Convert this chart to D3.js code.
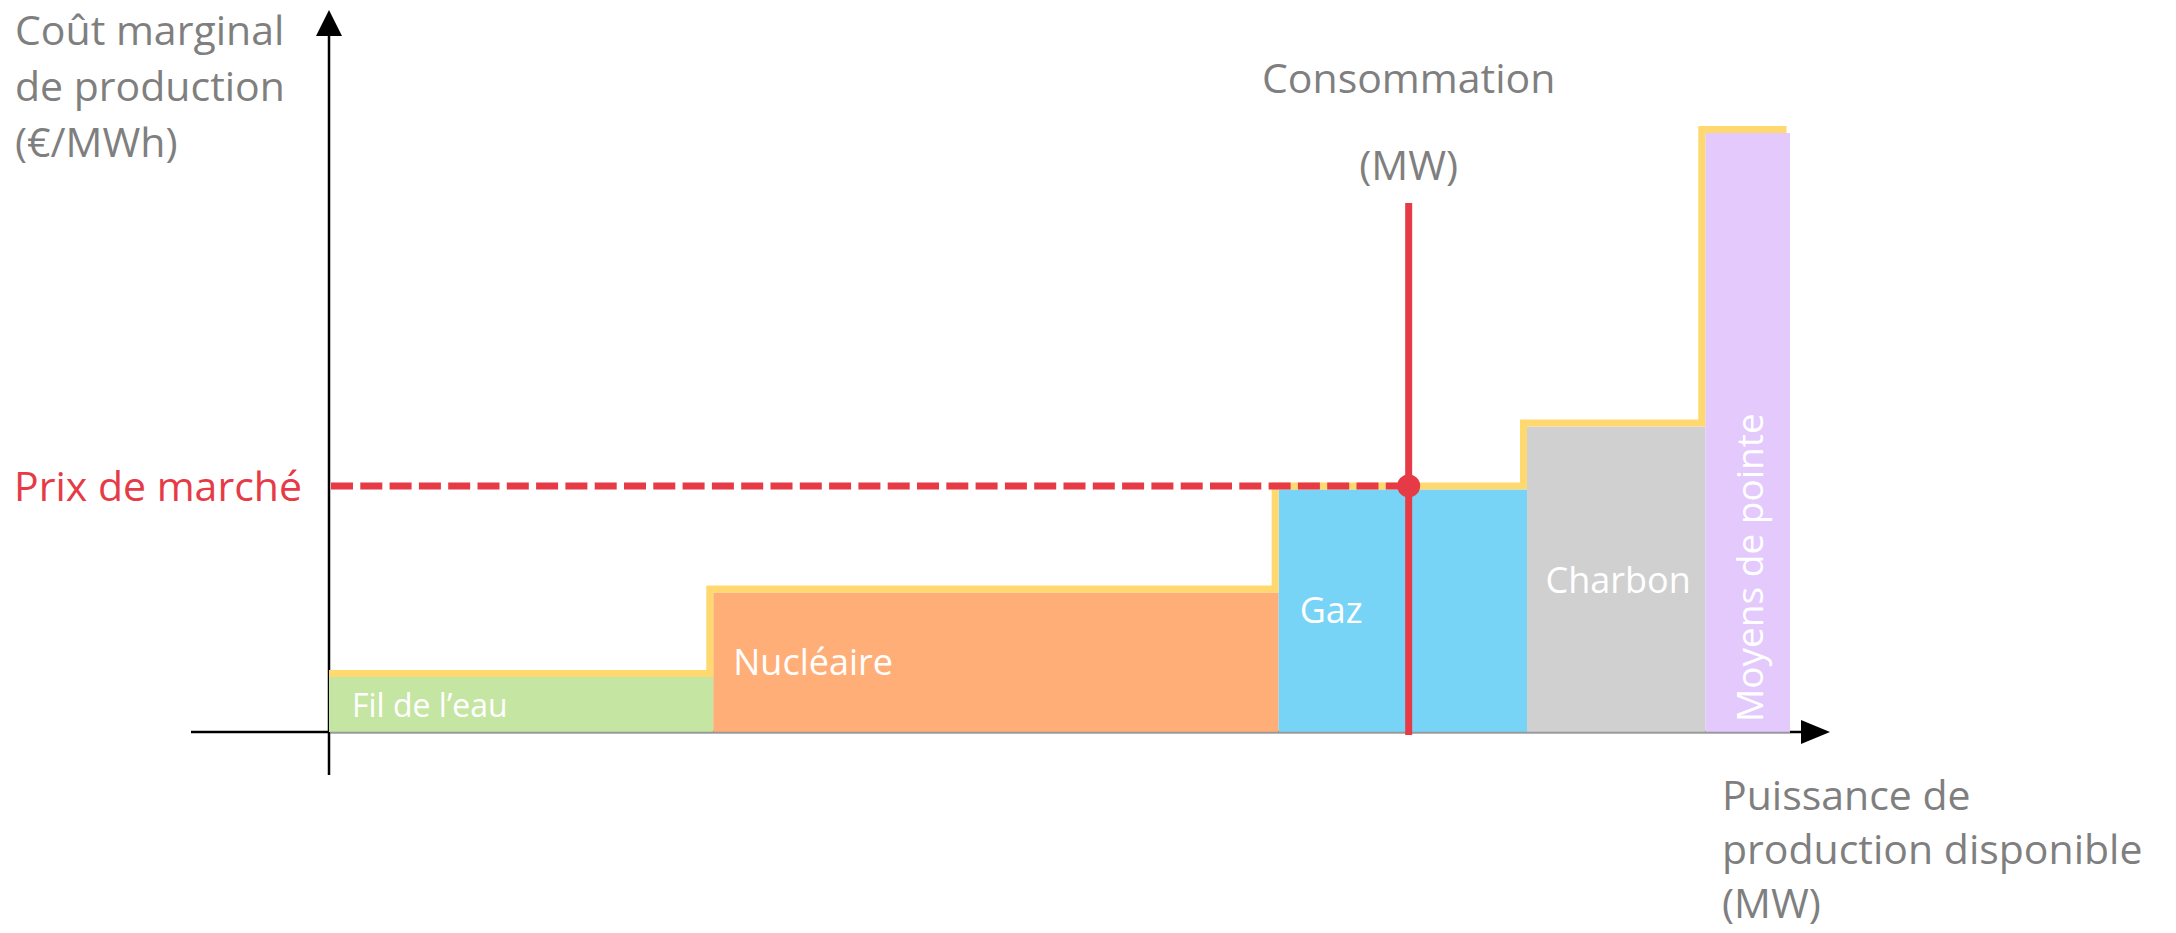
<!DOCTYPE html>
<html lang="fr">
<head>
  <meta charset="UTF-8">
  <title>Ordre de mérite - prix de marché</title>
  <script src="https://d3js.org/d3.v7.min.js"></script>
  <style>
    html, body { margin: 0; padding: 0; background: #fff; }
    text { font-family: "Open Sans", "Noto Sans", sans-serif; }
  </style>
</head>
<body>
  <div id="chart"></div>
  <script>
    // moyens de production, classés par coût marginal croissant
    const sources = ["Fil de l’eau", "Nucléaire", "Gaz", "Charbon", "Moyens de pointe"];
    const capacities = [26.3, 38.7, 17.0, 12.2, 5.8];   // puissance disponible (unités relatives)
    const costs = [9.2, 23.3, 40.5, 51.0, 100];          // coût marginal (unités relatives)
    const colors = ["#c5e5a3", "#ffae78", "#77d4f6", "#d0d0d0", "#e3c9fc"];
    const consumption = 73.9;
    const consumptionTop = 88.3;
    const marketPrice = 40.5;

    const yTitle = ["Coût marginal", "de production", "(€/MWh)"];
    const xTitle = ["Puissance de", "production disponible", "(MW)"];
    const consTitle = ["Consommation", "(MW)"];

    const width = 2176, height = 933;
    const grey = "#7f7f7f", red = "#e63b46", yellow = "#ffd970";
    const titleSize = 41;

    const svg = d3.select("#chart").append("svg")
      .attr("width", width)
      .attr("height", height);

    const x = d3.scaleLinear().domain([0, d3.sum(capacities)]).range([329, 1790]);
    const y = d3.scaleLinear().domain([0, 100]).range([732, 133]);

    // cumulative start of each block
    let acc = 0;
    const blocks = sources.map((s, i) => {
      const b = {name: s, x0: acc, x1: acc + capacities[i], cost: costs[i], color: colors[i]};
      acc += capacities[i];
      return b;
    });

    // axes (drawn first, bars go over them)
    const axes = svg.append("g");
    axes.append("line")
      .attr("x1", 191).attr("x2", 1806)
      .attr("y1", y(0)).attr("y2", y(0))
      .attr("stroke", "#000").attr("stroke-width", 2.5);
    axes.append("path")
      .attr("d", `M${1830},${y(0)} L${1801},${y(0) - 12} L${1801},${y(0) + 12} Z`)
      .attr("fill", "#000");
    axes.append("line")
      .attr("x1", x(0)).attr("x2", x(0))
      .attr("y1", 775).attr("y2", 32)
      .attr("stroke", "#000").attr("stroke-width", 2.5);
    axes.append("path")
      .attr("d", `M${x(0)},10 L${x(0) - 13},36 L${x(0) + 13},36 Z`)
      .attr("fill", "#000");

    // bars
    svg.append("g")
      .selectAll("rect")
      .data(blocks)
      .join("rect")
      .attr("x", d => x(d.x0))
      .attr("y", d => y(d.cost))
      .attr("width", d => x(d.x1) - x(d.x0))
      .attr("height", d => y(0) - y(d.cost))
      .attr("fill", d => d.color);

    svg.append("line")
      .attr("x1", x(0) + 1).attr("x2", x(acc))
      .attr("y1", y(0) + 0.5).attr("y2", y(0) + 0.5)
      .attr("stroke", "#999").attr("stroke-width", 1.5);

    // yellow merit-order step curve, sitting just outside the blocks
    const pts = [];
    blocks.forEach((b, i) => {
      pts.push([x(b.x0) + (i === 0 ? 3.5 : 0), y(b.cost)]);
      pts.push([x(b.x1), y(b.cost)]);
    });
    svg.append("path")
      .attr("d", d3.line()(pts))
      .attr("transform", "translate(-3.5,-3.5)")
      .attr("fill", "none")
      .attr("stroke", yellow)
      .attr("stroke-width", 7)
      .attr("stroke-linejoin", "miter")
      .attr("stroke-linecap", "butt");

    // block labels
    const lab = svg.append("g").attr("fill", "#fff");
    lab.append("text").text(sources[0])
      .attr("x", x(blocks[0].x0) + 23).attr("y", y(0) - 15)
      .attr("font-size", 32);
    lab.append("text").text(sources[1])
      .attr("x", x(blocks[1].x0) + 20).attr("y", y(blocks[1].cost) + 83)
      .attr("font-size", 36);
    lab.append("text").text(sources[2])
      .attr("x", x(blocks[2].x0) + 21).attr("y", y(blocks[2].cost) + 134)
      .attr("font-size", 36);
    lab.append("text").text(sources[3])
      .attr("x", (x(blocks[3].x0) + x(blocks[3].x1)) / 2 + 2).attr("y", y(blocks[3].cost) + 166)
      .attr("text-anchor", "middle")
      .attr("font-size", 36);
    lab.append("text").text(sources[4])
      .attr("transform", `translate(${(x(blocks[4].x0) + x(blocks[4].x1)) / 2 + 15},${y(0) - 10}) rotate(-90)`)
      .attr("font-size", 37);

    // market price (dashed) and consumption (vertical)
    const pY = y(marketPrice) - 3.5;
    svg.append("line")
      .attr("x1", x(0) + 2).attr("x2", x(consumption))
      .attr("y1", pY).attr("y2", pY)
      .attr("stroke", red).attr("stroke-width", 7)
      .attr("stroke-dasharray", "22,7.3");
    svg.append("line")
      .attr("x1", x(consumption)).attr("x2", x(consumption))
      .attr("y1", y(consumptionTop)).attr("y2", y(0) + 3)
      .attr("stroke", red).attr("stroke-width", 7);
    svg.append("circle")
      .attr("cx", x(consumption)).attr("cy", pY)
      .attr("r", 11.5).attr("fill", red);

    // titles
    svg.append("g").selectAll("text").data(yTitle).join("text")
      .attr("x", 15).attr("y", (d, i) => 45 + i * 56)
      .attr("font-size", titleSize).attr("fill", grey)
      .text(d => d);
    svg.append("g").selectAll("text").data(xTitle).join("text")
      .attr("x", 1722).attr("y", (d, i) => 810 + i * 54)
      .attr("font-size", titleSize).attr("fill", grey)
      .text(d => d);
    svg.append("g").selectAll("text").data(consTitle).join("text")
      .attr("x", x(consumption)).attr("y", (d, i) => 93 + i * 87)
      .attr("text-anchor", "middle")
      .attr("font-size", titleSize).attr("fill", grey)
      .text(d => d);
    svg.append("text")
      .attr("x", 14).attr("y", 501)
      .attr("font-size", titleSize).attr("fill", red)
      .text("Prix de marché");
  </script>
</body>
</html>
